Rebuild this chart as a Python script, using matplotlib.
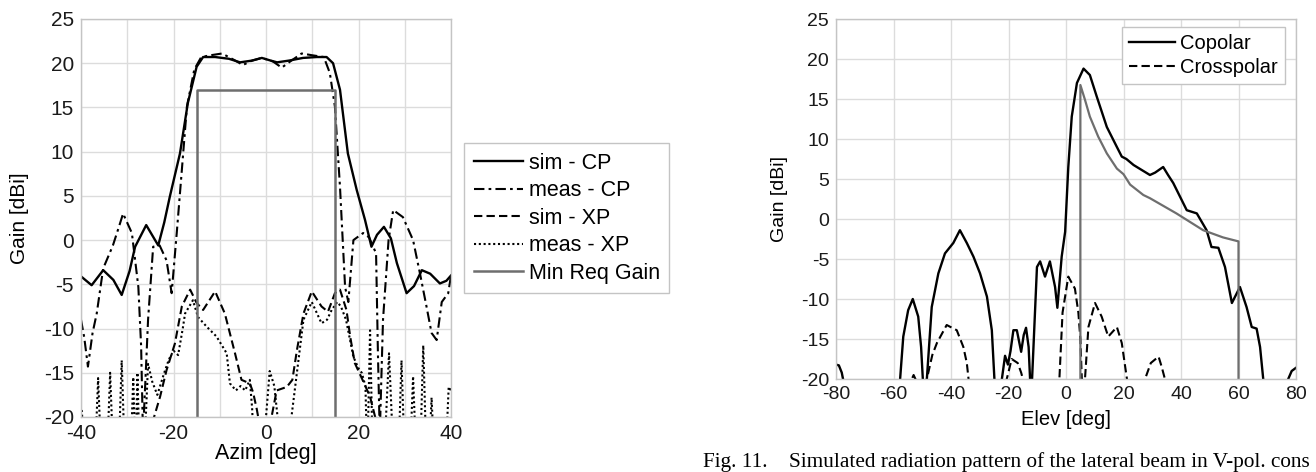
import matplotlib
matplotlib.use("Agg")
import matplotlib.pyplot as plt

plt.rcParams["font.family"] = ["Liberation Sans", "DejaVu Sans"]
plt.rcParams["axes.unicode_minus"] = False

# ---- left panel: azimuth cut ----
sim_cp_az = [-40, -37.7, -35.2, -33, -31.2, -29.5, -28.3, -25.9, -23.3, -22, -20.8, -18.6, -16.9, -15.0,
             -13.6, -11, -8, -5.6, -3, -0.9, 1, 2.4, 5, 8, 11, 13.1, 14.5, 16.0, 17.7, 19.6, 21.4, 22.8,
             24, 25.5, 27, 28.3, 30.4, 32, 33.7, 35.5, 37.6, 39, 40]
sim_cp = [-4.1, -5.1, -3.4, -4.5, -6.2, -3.5, -0.75, 1.7, -0.6, 2.0, 4.9, 9.8, 15.5, 19.6,
          20.7, 20.7, 20.5, 20.1, 20.3, 20.6, 20.3, 20.1, 20.3, 20.6, 20.7, 20.7, 20.0, 17.0, 9.8, 5.7, 2.3, -0.75,
          0.6, 1.5, 0.2, -2.6, -6.0, -5.2, -3.4, -3.8, -4.9, -4.6, -4.0]

meas_cp_az = [-40, -39.3, -38.5, -37.5, -36.6, -35.2, -33.1, -31.8, -30.9, -29.0, -27.6, -27.0, -26.6, -26.0,
              -25.5, -24.4, -23.0, -21.5, -20.4, -19.3, -18.2, -17.1, -15.5, -14, -12, -9.5, -7, -5.0, -3,
              -0.9, 1.5, 3.4, 5.5, 7.7, 10, 12.5, 13.8, 14.9, 16.0, 17.1, 17.8, 18.9, 21.0, 22.3, 23.8, 24.2,
              24.6, 25.3, 26.5, 27.5, 29.6, 31.8, 33.3, 34.7, 35.8, 36.9, 38.0, 39.4, 40]
meas_cp = [-9.0, -11, -14.3, -10.5, -8.3, -3.2, -0.6, 1.5, 3.0, 0.8, -5.3, -12, -22, -15,
           -9.0, -0.75, -0.6, -2.3, -6.0, 0.8, 7.9, 15.1, 19.3, 20.7, 20.9, 21.1, 20.4, 19.8, 20.3,
           20.6, 20.2, 19.5, 20.3, 21.1, 20.9, 20.7, 18.9, 15.1, 6.0, -5.3, -7.0, 0.0, 0.8, 0.3, -1.5, -12.8,
           -22, -9.0, 0.0, 3.4, 2.6, 0.0, -3.8, -7.5, -10.5, -11.3, -7.0, -6.0, -4.0]

sim_xp_az = [-25.5, -24.2, -22.9, -21.5, -19.7, -18.2, -16.4, -15.0, -13.6, -11.0, -8.9, -6.7, -5.3, -3.5,
             -2.8, -2.0, -1.0, 1.2, 2.3, 4.5, 5.7, 6.7, 8.1, 9.9, 12.0, 13.4, 14.9, 16.0, 17.4, 18.2, 19.2,
             20.7, 22.5, 23.6, 24.5]
sim_xp = [-22, -20, -17.7, -14.7, -11.7, -7.5, -5.6, -7.1, -7.9, -5.8, -8.3, -12.8, -15.8, -16.2,
          -17.2, -19.1, -22, -20, -17.0, -16.6, -15.8, -12.4, -8.3, -5.8, -7.5, -8.1, -6.0, -5.6, -7.9, -10.9, -13.9,
          -15.6, -17.7, -20, -22]

meas_xp_az = [-40, -39.8, -39.4, -37, -36.3, -35.6, -34.4, -33.7, -33.0, -31.9, -31.2, -30.5, -29.3, -28.7,
              -28.2, -27.8, -27.3, -26.4, -25.5, -24.6, -23.5, -22, -21, -20, -19, -18, -17.5, -15.8, -14.7,
              -12.8, -10.7, -8.5, -7.8, -6.5, -5.5, -4.5, -3.5, -3, -2.5, 0, 0.8, 1.8, 2.5, 3, 5, 5.5,
              8.1, 9.9, 12, 13.2, 14.2, 15.4, 16.2, 17.3, 18.9, 20.0, 20.7, 21.5, 21.9, 22.5, 23.1, 25.5, 26.6,
              27.6, 28.6, 29.3, 30.0, 31.1, 31.8, 32.5, 33.3, 34.0, 34.7, 35.2, 35.8, 36.4, 38.8, 39.5, 40]
meas_xp = [-19.3, -19.3, -25, -25, -15.6, -25, -25, -15.0, -25, -25, -13.6, -25, -25, -15.5,
           -25, -15.0, -25, -25, -14.0, -16.0, -17.5, -15, -13.5, -12.5, -13, -10, -8.3, -6.8, -8.7,
           -9.8, -10.9, -12.8, -16.2, -17, -16.5, -17, -15.8, -19, -25, -20, -14.8, -16.5, -20, -25, -25, -20,
           -9.0, -7.0, -9.4, -9.0, -7.9, -7.0, -7.5, -9.0, -13.2, -14.5, -15.0, -16.5, -25, -10.2, -25, -25, -12.8,
           -25, -25, -13.6, -25, -25, -15.4, -25, -25, -11.9, -25, -25, -17.8, -25, -25, -16.6, -17]

req_az = [-15, -15, 15, 15]
req_gain = [-20, 17, 17, -20]

# ---- right panel: elevation cut ----
el_co = [-80, -79, -78, -77, -70, -58.5, -57.7, -56.6, -54.9, -53.3, -51.4, -50.4, -49.8, -49, -48.4,
         -46.7, -44.4, -42.1, -39.2, -36.9, -34.5, -32.2, -29.9, -27.5, -25.8, -24.9, -24, -22.8, -22.3,
         -21.2, -20.2, -19.3, -18.3, -17.1, -15.6, -14.7, -13.9, -13, -12.5, -12.1, -11.8, -10.1, -9, -7.3,
         -5.6, -3.8, -3, -1.5, -0.3, 0.8, 2, 3.8, 6.1, 8.3, 10.7, 14.2, 17.7, 19.4, 21, 23.5, 26, 29.2, 31,
         33.8, 35.5, 37.3, 42, 45.5, 48.9, 50.6, 53, 55.3, 57.7, 60.5, 62.8, 64.6, 66.3, 67.5, 68.6, 69.5,
         76, 77.3, 78.5, 80]
copolar = [-18.2, -18.3, -19.2, -21, -30, -25, -20, -14.7, -11.4, -10.0, -12.2, -16, -20, -25, -20,
           -11, -6.8, -4.3, -3.0, -1.4, -3.0, -4.7, -6.8, -9.7, -13.9, -20, -26, -26, -20,
           -17.1, -18.2, -16.5, -13.9, -13.9, -16.6, -14.5, -13.6, -16, -20, -24, -20, -6, -5.3, -7.2,
           -5.3, -8.5, -11.1, -4.7, -1.6, 6.5, 12.8, 17, 18.8, 18, 15.3, 11.5, 9.0, 7.8, 7.5, 6.75, 6.2, 5.5, 5.8,
           6.5, 5.5, 4.5, 1.1, 0.7, -1.4, -3.5, -3.6, -6, -10.5, -8.5, -11, -13.5, -13.7, -16, -20, -26,
           -25, -20, -19.0, -18.6]

el_x = [-80, -54.5, -54, -53, -52, -51.5, -49, -48.4, -46.5, -44.9, -41.5, -38, -35.7, -34.5, -33.9, -33,
        -21, -20.6, -18.9, -16.8, -15.6, -15, -14, -3, -2.3, -1.2, 0.8, 3.1, 4.3, 5, 5.5, 6, 6.6, 7.8, 10.1,
        12.4, 14.7, 17.7, 19.4, 21.2, 22, 27, 27.5, 29.5, 32.2, 33.3, 34.4, 35, 80]
crosspolar = [-30, -25, -20.3, -19.5, -20.3, -25, -25, -20, -17, -15.5, -13.25, -13.9, -16, -18, -20, -25,
              -25, -20, -17.5, -18, -19.2, -20, -25, -25, -20, -11.7, -7.2, -8.7, -11.7, -15, -20, -25, -20, -13.5, -10.5,
              -12.2, -14.7, -13.5, -15.5, -20, -25, -25, -20, -18, -17.2, -18.5, -20, -25, -30]

el_req = [5, 5, 6.6, 8.3, 11.2, 14.2, 17.7, 20, 22.3, 26.9, 29.2, 38.4, 47.7, 54.6, 60, 60]
req_el_gain = [-20, 16.75, 14.9, 12.8, 10.3, 8.2, 6.3, 5.6, 4.3, 3.0, 2.6, 0.7, -1.4, -2.3, -2.8, -20]

W, H = 1316, 472
fig = plt.figure(figsize=(W / 100, H / 100), dpi=100)
grid_col = "#dcdcdc"
frame_col = "#c4c4c4"
req_col = "#6e6e6e"


def style_axes(ax, tick_size):
    ax.grid(True, color=grid_col, linewidth=1.0)
    ax.set_axisbelow(True)
    for sp in ax.spines.values():
        sp.set_color(frame_col)
        sp.set_linewidth(1.0)
    ax.tick_params(length=0, labelsize=tick_size, pad=5, colors="#1a1a1a")


# left axes
ax1 = fig.add_axes([81 / W, (H - 417) / H, 370 / W, 398 / H])
ax1.plot(sim_cp_az, sim_cp, color="black", lw=1.7, label="sim - CP")
ax1.plot(meas_cp_az, meas_cp, color="black", lw=1.5, ls=(0, (5, 2, 1.3, 2)), label="meas - CP")
ax1.plot(sim_xp_az, sim_xp, color="black", lw=1.5, ls=(0, (4, 2)), label="sim - XP")
ax1.plot(meas_xp_az, meas_xp, color="black", lw=1.5, ls=(0, (1, 1.3)), label="meas - XP")
ax1.plot(req_az, req_gain, color=req_col, lw=1.8, label="Min Req Gain")
ax1.set_xlim(-40, 40)
ax1.set_ylim(-20, 25)
ax1.set_xticks([-40, -20, 0, 20, 40])
ax1.set_yticks([-20, -15, -10, -5, 0, 5, 10, 15, 20, 25])
ax1.set_xticks([-30, -10, 10, 30], minor=True)
ax1.grid(True, which="minor", axis="x", color=grid_col, linewidth=1.0)
style_axes(ax1, 15)
ax1.tick_params(which="minor", length=0)
ax1.set_xlabel("Azim [deg]", fontsize=15.5)
ax1.xaxis.set_label_coords(0.5, -0.066)
ax1.set_ylabel("Gain [dBi]", fontsize=15)
ax1.yaxis.set_label_coords(-0.14, 0.5)
leg1 = ax1.legend(loc="upper left", bbox_to_anchor=(464 / W, 1 - 143 / H), bbox_transform=fig.transFigure,
                  borderaxespad=0, fontsize=15.5, handlelength=2.3, handletextpad=0.25, labelspacing=0.3,
                  borderpad=0.45, fancybox=False, framealpha=1)
leg1.get_frame().set_edgecolor(frame_col)

# right axes
ax2 = fig.add_axes([836 / W, (H - 379) / H, 460 / W, 360 / H])
ax2.plot(el_co, copolar, color="black", lw=1.7, label="Copolar")
ax2.plot(el_x, crosspolar, color="black", lw=1.5, ls=(0, (4, 2)), label="Crosspolar")
ax2.plot(el_req, req_el_gain, color=req_col, lw=1.6)
ax2.set_xlim(-80, 80)
ax2.set_ylim(-20, 25)
ax2.set_xticks(range(-80, 81, 20))
ax2.set_yticks(range(-20, 26, 5))
style_axes(ax2, 14)
ax2.set_xlabel("Elev [deg]", fontsize=14.5)
ax2.xaxis.set_label_coords(0.5, -0.086)
ax2.set_ylabel("Gain [dBi]", fontsize=14)
ax2.yaxis.set_label_coords(-0.105, 0.5)
leg2 = ax2.legend(loc="upper right", bbox_to_anchor=(1285 / W, 1 - 27 / H), bbox_transform=fig.transFigure,
                  borderaxespad=0, fontsize=14.5, handlelength=2.3, handletextpad=0.25, labelspacing=0.25,
                  borderpad=0.35, fancybox=False, framealpha=1)
leg2.get_frame().set_edgecolor(frame_col)

# figure caption of the source page, as much as is visible there
fig.text(703 / W, 5 / H, "Fig. 11.    Simulated radiation pattern of the lateral beam in V-pol. cons",
         family=["Liberation Serif", "DejaVu Serif"], fontsize=15.3, va="baseline", ha="left")

fig.savefig("out.png", dpi=100)
